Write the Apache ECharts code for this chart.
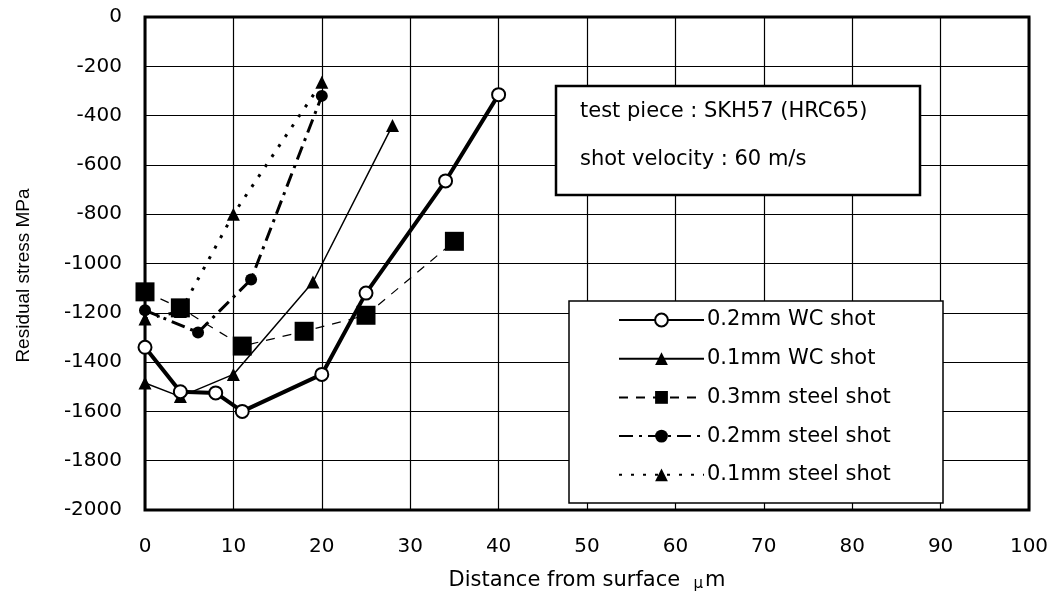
<!DOCTYPE html>
<html>
<head>
<meta charset="utf-8">
<script src="https://cdn.jsdelivr.net/npm/echarts@6/dist/echarts.min.js"></script>
<style>
html,body{margin:0;padding:0;background:#fff;}
#chart{width:1063px;height:601px;}
</style>
</head>
<body>
<div id="chart"></div>
<script>
// ---- data ----
const seriesNames = ['0.2mm WC shot','0.1mm WC shot','0.3mm steel shot','0.2mm steel shot','0.1mm steel shot'];
const wc02X = [0, 4, 8, 11, 20, 25, 34, 40];
const wc02Y = [-1340, -1520, -1525, -1600, -1450, -1120, -665, -315];
const wc01X = [0, 4, 10, 19, 28];
const wc01Y = [-1485, -1540, -1450, -1075, -440];
const st03X = [0, 4, 11, 18, 25, 35];
const st03Y = [-1115, -1180, -1335, -1275, -1210, -910];
const st02X = [0, 6, 12, 20];
const st02Y = [-1190, -1280, -1065, -320];
const st01X = [0, 4, 10, 20];
const st01Y = [-1225, -1195, -800, -265];
const xTicks = [0,10,20,30,40,50,60,70,80,90,100];
const yTicks = [0,-200,-400,-600,-800,-1000,-1200,-1400,-1600,-1800,-2000];
const noteLines = ['test piece : SKH57 (HRC65)', 'shot velocity : 60 m/s'];

function pairs(xs, ys){ return xs.map((x,i)=>[x, ys[i]]); }

const FONT = 'DejaVu Sans';
const chart = echarts.init(document.getElementById('chart'), null, {renderer:'canvas'});
const option = {
  backgroundColor: '#fff',
  animation: false,
  grid: {left:145, right:34, top:17, bottom:91, show:true, borderColor:'#000', borderWidth:3, backgroundColor:'transparent'},
  xAxis: {
    type:'value', min:xTicks[0], max:xTicks[xTicks.length-1], interval:10,
    axisLine:{show:false}, axisTick:{show:false},
    splitLine:{show:true, lineStyle:{color:'#000', width:1.2}},
    axisLabel:{color:'#000', fontFamily:FONT, fontSize:20, margin:27, formatter:v=>String(v)},
    name:'Distance from surface  {mu|μ}m', nameLocation:'middle', nameGap:60,
    nameTextStyle:{color:'#000', fontFamily:FONT, fontSize:21,
      rich:{mu:{fontFamily:FONT, fontSize:15, color:'#000', padding:[7,2,0,0]}}}
  },
  yAxis: {
    type:'value', min:yTicks[yTicks.length-1], max:yTicks[0], interval:200,
    axisLine:{show:false}, axisTick:{show:false},
    splitLine:{show:true, lineStyle:{color:'#000', width:1.2}},
    axisLabel:{color:'#000', fontFamily:FONT, fontSize:20, margin:23, formatter:v=>String(v)},
    name:'Residual stress MPa', nameLocation:'middle', nameGap:112,
    nameTextStyle:{color:'#000', fontFamily:'Liberation Sans', fontSize:19, padding:[0,24,0,0]}
  },
  legend: {
    orient:'vertical', left:618, top:309, z:20, padding:0,
    itemWidth:85, itemHeight:16, itemGap:16.7,
    textStyle:{color:'#000', fontFamily:FONT, fontSize:21, lineHeight:22, padding:[0,0,0,-2]},
    data: seriesNames
  },
  graphic: [
    {type:'rect', z:10, shape:{x:556, y:86, width:364, height:109}, style:{fill:'#fff', stroke:'#000', lineWidth:2.5}},
    {type:'text', z:11, x:580, y:112, style:{text:noteLines[0], fill:'#000', font:'21px "DejaVu Sans"', textVerticalAlign:'middle', verticalAlign:'middle'}},
    {type:'text', z:11, x:580, y:160, style:{text:noteLines[1], fill:'#000', font:'21px "DejaVu Sans"', textVerticalAlign:'middle', verticalAlign:'middle'}},
    {type:'rect', z:10, shape:{x:569, y:301, width:374, height:202}, style:{fill:'#fff', stroke:'#000', lineWidth:1.5}}
  ],
  series: [
    {name:seriesNames[0], type:'line', data:pairs(wc02X, wc02Y), symbol:'circle', symbolSize:13, z:6,
     itemStyle:{color:'#fff', borderColor:'#000', borderWidth:2},
     lineStyle:{color:'#000', width:4}},
    {name:seriesNames[1], type:'line', data:pairs(wc01X, wc01Y), symbol:'triangle', symbolSize:13, z:5,
     itemStyle:{color:'#000'}, lineStyle:{color:'#000', width:1.5}},
    {name:seriesNames[2], type:'line', data:pairs(st03X, st03Y), symbol:'rect', symbolSize:19, z:7,
     itemStyle:{color:'#000'}, lineStyle:{color:'#000', width:1.2, type:[9,8]}},
    {name:seriesNames[3], type:'line', data:pairs(st02X, st02Y), symbol:'circle', symbolSize:12, z:4,
     itemStyle:{color:'#000'}, lineStyle:{color:'#000', width:3, type:[14,6,3,6]}},
    {name:seriesNames[4], type:'line', data:pairs(st01X, st01Y), symbol:'triangle', symbolSize:13, z:3,
     itemStyle:{color:'#000'}, lineStyle:{color:'#000', width:3, type:[3,9]}}
  ]
};
chart.setOption(option);
</script>
</body>
</html>
